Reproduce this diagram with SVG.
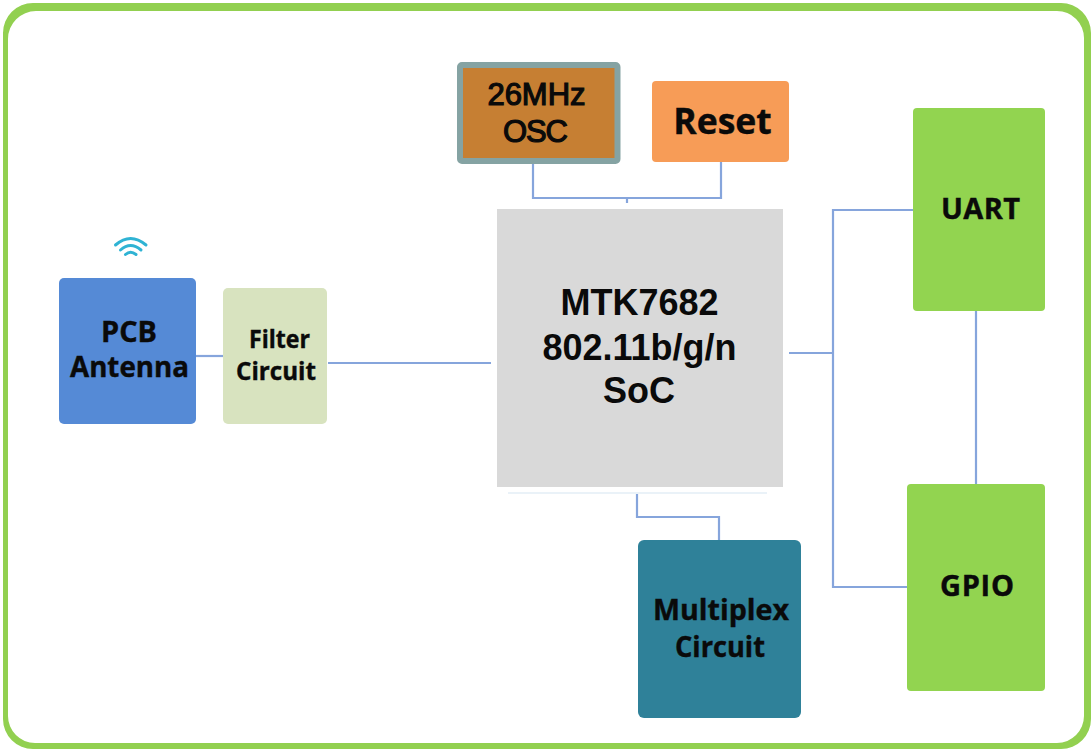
<svg xmlns="http://www.w3.org/2000/svg" width="1091" height="749" viewBox="0 0 1091 749">
<style>
.o{font-family:"Open Sans","Liberation Sans",Arial,sans-serif;font-weight:700;fill:#0a0a0a;stroke:#0a0a0a;stroke-width:.4;text-anchor:middle}
.l{font-family:"Liberation Sans",Arial,sans-serif;font-weight:700;fill:#0a0a0a;text-anchor:middle}
.r{font-family:"Liberation Sans",Arial,sans-serif;font-weight:400;fill:#0a0a0a;stroke:#0a0a0a;stroke-width:1.200;text-anchor:middle}
.c{fill:none;stroke:#86a5dc;stroke-width:2.200}
</style>
<rect width="1091" height="749" fill="#fff"/>
<path id="frame" fill="#92d050" fill-rule="evenodd" d="M33 3H1061A30 30 0 0 1 1091 33V719A30 30 0 0 1 1061 749H33A30 30 0 0 1 3 719V33A30 30 0 0 1 33 3ZM36 11A28 28 0 0 0 8 39V716A27 27 0 0 0 35 743H1057A27 27 0 0 0 1084 716V38A27 27 0 0 0 1057 11Z"/>
<g id="connectors">
<path class="c" d="M196 356H223"/>
<path class="c" d="M328 363H491"/>
<path class="c" d="M533 162V198H721V162M627 198V203"/>
<path class="c" d="M789 353H833M913 210H833V587H907"/>
<path class="c" d="M976 311V485"/>
<path class="c" d="M637 494V517H719V541"/>
<path d="M508 493H767" fill="none" stroke="#e3eef6" stroke-width="1.500"/>
</g>
<g id="wifi" fill="none" stroke="#2fb3d4" stroke-width="3" stroke-linecap="round">
<path d="M115.500 245Q130.500 232 146 245"/>
<path d="M120.500 250Q130.500 241 141 250"/>
<path d="M125.500 254.500Q130.500 250 136 254.500"/>
</g>
<g id="pcb-antenna"><rect x="59" y="278" width="137" height="146" rx="5" fill="#558ad6"/>
<text class="o" font-size="28" x="129" y="342" textLength="56" lengthAdjust="spacingAndGlyphs">PCB</text><text class="o" font-size="28" x="129.500" y="377" textLength="119" lengthAdjust="spacingAndGlyphs">Antenna</text></g>
<g id="filter-circuit"><rect x="223" y="288" width="104" height="136" rx="5" fill="#d8e3bf"/>
<text class="o" font-size="24.500" x="279.500" y="348" textLength="61" lengthAdjust="spacingAndGlyphs">Filter</text><text class="o" font-size="24.500" x="276" y="380" textLength="80" lengthAdjust="spacingAndGlyphs">Circuit</text></g>
<g id="osc"><rect x="460" y="65" width="157.500" height="96" rx="2" fill="#c67f33" stroke="#85a3a3" stroke-width="6"/>
<text class="r" font-size="31" x="536.500" y="105">26MHz</text><text class="r" font-size="31" x="535.500" y="142" textLength="65">OSC</text></g>
<g id="reset"><rect x="652" y="81" width="137" height="81" rx="4" fill="#f79c57"/>
<text class="o" font-size="35.500" x="722.500" y="134">Reset</text></g>
<g id="soc"><rect x="497" y="209" width="286" height="278" fill="#d9d9d9"/>
<text class="l" font-size="36" x="639.500" y="315">MTK7682</text><text class="l" font-size="36" x="639.500" y="360">802.11b/g/n</text><text class="l" font-size="36" x="639" y="403">SoC</text></g>
<g id="uart"><rect x="913" y="108" width="132" height="203" rx="4" fill="#92d450"/>
<text class="o" font-size="29" x="980.500" y="219" textLength="79">UART</text></g>
<g id="gpio"><rect x="907" y="484" width="138" height="207" rx="4" fill="#92d450"/>
<text class="o" font-size="29" x="977" y="596" textLength="74">GPIO</text></g>
<g id="multiplex"><rect x="638" y="540" width="163" height="178" rx="6" fill="#2f8199"/>
<text class="o" font-size="29" x="721" y="620" textLength="136" lengthAdjust="spacingAndGlyphs">Multiplex</text><text class="o" font-size="29" x="720" y="657" textLength="90" lengthAdjust="spacingAndGlyphs">Circuit</text></g>
</svg>
